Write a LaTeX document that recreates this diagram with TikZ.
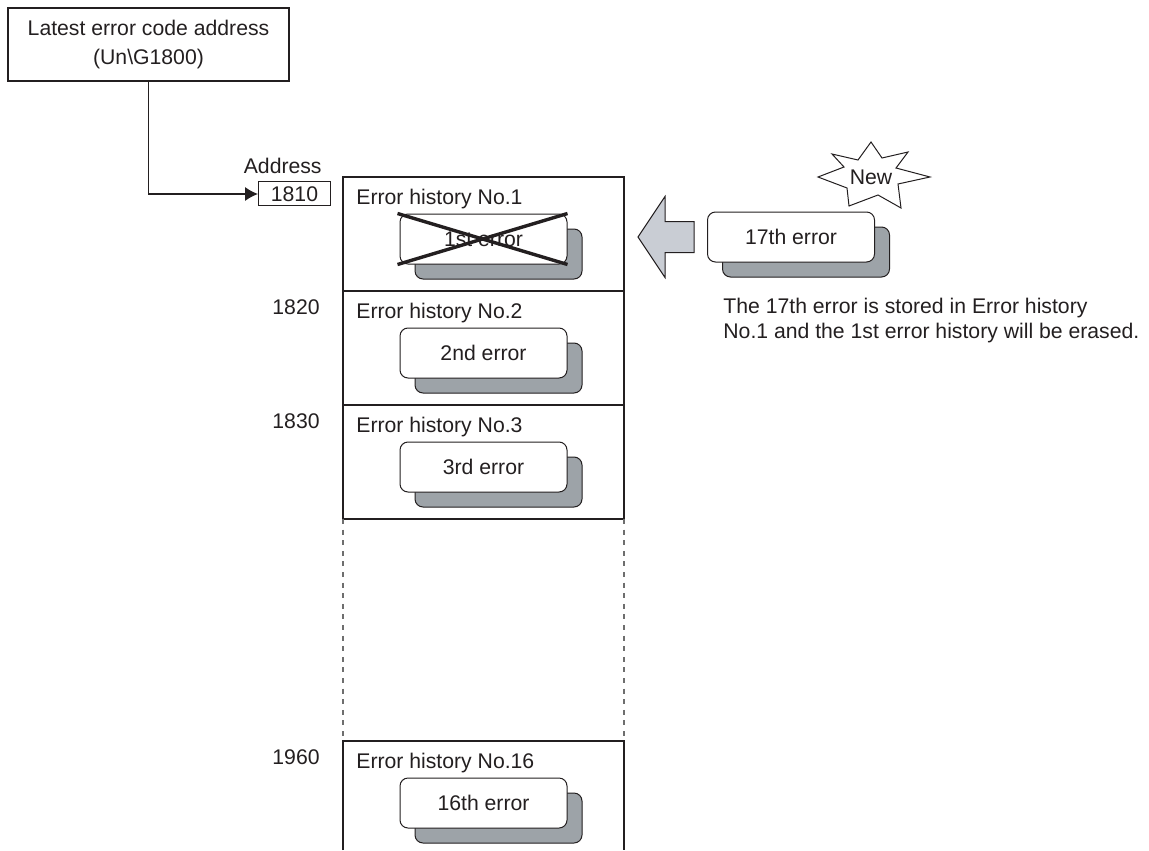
\documentclass[tikz,border=0pt]{standalone}
\usepackage{fontspec}
\setmainfont{Liberation Sans}
\usepackage{tikz}
\usetikzlibrary{positioning, arrows.meta, shadows}
\definecolor{inkgray}{RGB}{35, 31, 32}
\definecolor{shadegray}{RGB}{157, 163, 168}
\definecolor{arrowfill}{RGB}{201, 205, 212}
\definecolor{dashgray}{RGB}{110, 110, 110}

\begin{document}
\begin{tikzpicture}[x=0.5pt, y=-0.5pt,
  every node/.style={font=\fontsize{10.6}{12.5}\selectfont, text=inkgray},
  histrow/.style={rectangle, draw=inkgray, line width=0.6pt, outer sep=0pt,
    inner sep=0pt, minimum width=140.5pt, minimum height=57pt},
  histlabel/.style={inner sep=0pt, anchor=west},
  record/.style={rectangle, rounded corners=4pt, draw=inkgray, fill=white,
    line width=0.5pt, minimum width=83.5pt, minimum height=25pt,
    copy shadow={shadow xshift=7.5pt, shadow yshift=-7.5pt, fill=shadegray,
      draw=inkgray}},
  addrnum/.style={inner sep=0pt, anchor=east},
  flow/.style={-{Latex[length=6.5pt, width=7pt]}, line width=0.6pt, draw=inkgray},
  strike/.style={line width=1.7pt, draw=inkgray},
  gapline/.style={draw=dashgray, line width=0.6pt, dash pattern=on 2.5pt off 2.8pt},
  bigarrow/.style={fill=arrowfill, draw=inkgray, line width=0.5pt, line join=miter},
  burst/.style={draw=inkgray, fill=white, line width=0.5pt}
]
  \useasboundingbox (0,0) rectangle (1149,850);

  \node[draw=inkgray, line width=0.6pt, minimum width=140.5pt, minimum height=36.5pt,
    align=center, font=\fontsize{10.6}{14.5}\selectfont] (latest) at (148.5,44.5)
    {Latest error code address\\(Un\textbackslash G1800)};

  % history area
  \node[histrow, anchor=north west] (row1) at (343,177) {};
  \node[histrow, below=0pt of row1] (row2) {};
  \node[histrow, below=0pt of row2] (row3) {};
  \node[histrow, draw=none, minimum height=54.5pt, below=111pt of row3] (row16) {};
  \draw[inkgray, line width=0.6pt] (row16.south west) -- (row16.north west)
    -- (row16.north east) -- (row16.south east);
  \draw[gapline] (row3.south west) -- (row16.north west);
  \draw[gapline] (row3.south east) -- (row16.north east);

  \foreach \n/\txt in {1/1st, 2/2nd, 3/3rd, 16/16th} {
    \node[histlabel] (lab\n) at ([shift={(6.5pt,-11pt)}]row\n.north west) {Error history No.\n};
    \node[record] (rec\n) at ([yshift=-31pt]row\n.north) {\txt{} error};
  }
  \draw[strike] ([xshift=-1pt]rec1.north west) -- (rec1.south east);
  \draw[strike] ([xshift=-1pt]rec1.south west) -- (rec1.north east);

  % addresses
  \node[draw=inkgray, line width=0.5pt, minimum width=36pt, minimum height=12pt,
    inner sep=0pt, anchor=east] (addr1) at ([shift={(-6pt,-8.5pt)}]row1.north west) {1810};
  \node[inner sep=0pt, anchor=south east] (addrhead) at ([shift={(-4.5pt,3.5pt)}]addr1.north east) {Address};
  \foreach \n/\a in {2/1820, 3/1830, 16/1960}
    \node[addrnum] (addr\n) at ([shift={(-11.5pt,-8pt)}]row\n.north west) {\a};

  \draw[flow] (latest.south) |- (addr1.west);

  % new error
  \node[record] (rec17) at (791,237) {17th error};
  \draw[bigarrow] ([xshift=-6.5pt]rec17.west) ++(0,7.75pt) -- ++(-14.5pt,0) -- ++(0,12.5pt)
    -- ++(-13.5pt,-20.25pt) -- ++(13.5pt,-20.25pt) -- ++(0,12.5pt) -- ++(14.5pt,0) -- cycle;

  \coordinate (burstc) at ([shift={(42.5pt,30pt)}]rec17.center);
  \draw[burst] ([shift={(-2.5pt,17.5pt)}]burstc)
    \foreach \dx/\dy in {3/9.5, 16/12.5, 10/4.5, 27/0, 11/-3.5, 12.5/-15.5, 1/-9,
      -13.5/-14.5, -14.5/-5.5, -29/0, -16/5, -22/11.5, -9/8.5}
    { -- ([shift={(\dx pt,\dy pt)}]burstc) } -- cycle;
  \node[inner sep=0pt] (new) at ([xshift=-2.5pt]burstc) {New};

  \node[inner sep=0pt, anchor=north west, align=left] (note17)
    at ([shift={(8pt,-17.5pt)}]rec17.south west)
    {The 17th error is stored in Error history\\No.1 and the 1st error history will be erased.};
\end{tikzpicture}
\end{document}
